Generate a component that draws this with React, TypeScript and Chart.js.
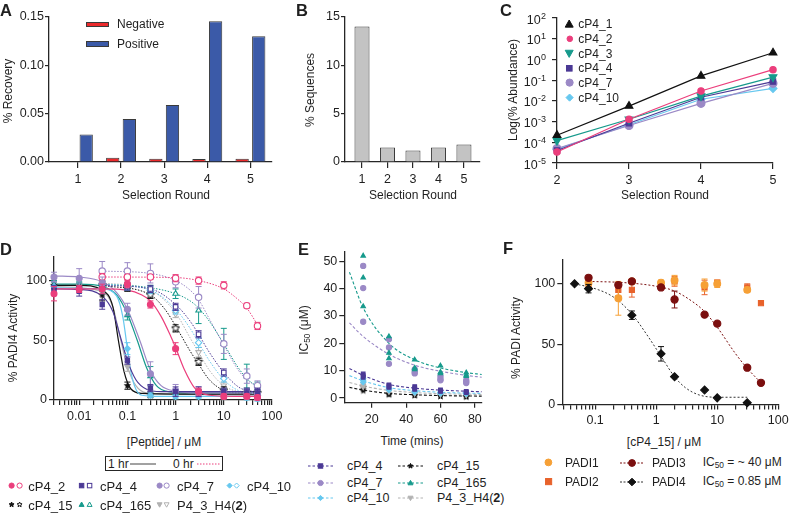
import React, { useEffect, useRef } from 'react';
import { Chart, registerables } from 'chart.js';

Chart.register(...registerables);

const FONT = '"Liberation Sans", Arial, Helvetica, sans-serif';
const TXT = '#1f1f1f';
const AX = '#262626';

const RED = '#ec2a2c';
const BLUE = '#3b5aa8';
const BARGRAY = '#c3c3c3';
const BAREDGE = '#3a3a3a';
const PINK = '#eb3e7c';
const TEAL = '#169a8c';
const PURPLE = '#4b3995';
const LAV = '#9b89c6';
const CYAN = '#67c8ef';
const GRAY = '#b2b2b2';
const BLACK = '#111111';
const ORANGE = '#f6a036';
const ORANGERED = '#e8622b';
const DARKRED = '#7b0f0f';

// ---------------- Panel A ----------------
const roundsA = [1, 2, 3, 4, 5];
const negativeA = [0, 0.0045, 0.0034, 0.003, 0.0034];
const positiveA = [0.0285, 0.0445, 0.059, 0.1455, 0.13];
const yTicksA = [0, 0.05, 0.1, 0.15];

// ---------------- Panel B ----------------
const roundsB = [1, 2, 3, 4, 5];
const sequencesB = [14.0, 1.5, 1.2, 1.5, 1.8];
const yTicksB = [0, 5, 10, 15];

// ---------------- Panel C ----------------
const roundsC = [2, 3, 4, 5];
const abund_cP4_1 = [2.2e-4, 5.6e-3, 0.16, 2.1];
const abund_cP4_2 = [3.4e-5, 1.3e-3, 0.03, 0.32];
const abund_cP4_3 = [1.2e-4, 1.3e-3, 0.017, 0.14];
const abund_cP4_4 = [4.0e-5, 8.3e-4, 0.015, 0.085];
const abund_cP4_7 = [5.0e-5, 6.5e-4, 7.6e-3, 0.07];
const abund_cP4_10 = [4.6e-5, 7.0e-4, 0.012, 0.04];
const yExpC = [-5, -4, -3, -2, -1, 0, 1, 2];

// ---------------- Panel D ----------------
const concD1h = [0.003, 0.01, 0.03, 0.1, 0.3, 1, 3, 10, 30, 50];
const concD0h = [0.03, 0.1, 0.3, 1, 3, 10, 30, 50];
const dMajors = [0.01, 0.1, 1, 10, 100];
const dMajorLabels = ['0.01', '0.1', '1', '10', '100'];
const minorSteps = [2, 3, 4, 5, 6, 7, 8, 9];
const yTicksD = [0, 50, 100];

const d1_cP4_2 = [89, 93, 93, 97, 80, 43, 7, 3, 3, 2];
const d1e_cP4_2 = [6, 3, 4, 3, 3, 5, 3, 2, 2, 2];
const d1_cP4_4 = [92, 91, 80, 33, 10, 7, 7, 7, 6, 6];
const d1e_cP4_4 = [4, 4, 4, 3, 3, 4, 4, 3, 3, 3];
const d1_cP4_7 = [103, 102, 98, 76, 22, 8, 7, 6, 6, 5];
const d1e_cP4_7 = [4, 8, 5, 5, 10, 5, 4, 3, 3, 3];
const d1_cP4_10 = [95, 94, 93, 43, 4, 3, 3, 3, 2, 1];
const d1e_cP4_10 = [4, 4, 4, 5, 2, 2, 2, 2, 2, 2];
const d1_cP4_15 = [96, 95, 88, 12, 4, 5, 5, 5, 5, 5];
const d1e_cP4_15 = [3, 3, 5, 3, 2, 2, 2, 2, 2, 2];
const d1_cP4_165 = [97, 96, 94, 71, 20, 6, 6, 6, 5, 5];
const d1e_cP4_165 = [3, 3, 3, 4, 8, 3, 3, 3, 2, 2];
const d1_P4_3_H4 = [95, 94, 90, 28, 6, 5, 4, 4, 4, 3];
const d1e_P4_3_H4 = [3, 3, 3, 4, 3, 2, 2, 2, 2, 2];

const d0_cP4_2 = [103, 103, 103, 102, 100, 96, 79, 62];
const d0e_cP4_2 = [3, 2, 2, 3, 3, 3, 2, 3];
const d0_cP4_4 = [96, 95, 93, 78, 55, 23, 7, 7];
const d0e_cP4_4 = [3, 3, 3, 3, 3, 3, 3, 3];
const d0_cP4_7 = [108, 108, 106, 99, 86, 47, 20, 12];
const d0e_cP4_7 = [8, 7, 8, 5, 9, 8, 6, 4];
const d0_cP4_10 = [97, 95, 92, 75, 48, 18, 6, 4];
const d0e_cP4_10 = [3, 3, 3, 3, 4, 3, 3, 3];
const d0_cP4_15 = [96, 94, 88, 60, 32, 8, 6, 6];
const d0e_cP4_15 = [3, 3, 3, 3, 3, 3, 3, 2];
const d0_cP4_165 = [97, 95, 93, 89, 75, 47, 20, 12];
const d0e_cP4_165 = [3, 3, 3, 4, 11, 13, 10, 3];
const d0_P4_3_H4 = [98, 96, 92, 72, 40, 12, 6, 5];
const d0e_P4_3_H4 = [3, 3, 3, 3, 4, 3, 2, 2];

// fitted curves: [concentration, activity]
const c1_cP4_2 = [[0.003, 93], [0.03, 93], [0.1, 92], [0.2, 88], [0.3, 83], [0.5, 70], [0.8, 53], [1, 44], [1.5, 26], [2.5, 10], [5, 4], [20, 3], [50, 3]];
const c1_cP4_4 = [[0.003, 93], [0.01, 92.5], [0.03, 87], [0.05, 74], [0.075, 50], [0.1, 33], [0.15, 17], [0.25, 9], [0.5, 7], [50, 7]];
const c1_cP4_7 = [[0.003, 104], [0.01, 103], [0.03, 99], [0.06, 90], [0.1, 76], [0.18, 50], [0.3, 25], [0.5, 12], [1, 7.5], [3, 6], [50, 6]];
const c1_cP4_10 = [[0.003, 94], [0.03, 93], [0.06, 87], [0.08, 70], [0.1, 43], [0.12, 22], [0.15, 9], [0.2, 4], [0.5, 3], [50, 3]];
const c1_cP4_15 = [[0.003, 96], [0.01, 96], [0.03, 92], [0.05, 78], [0.065, 50], [0.085, 24], [0.12, 9], [0.2, 5.5], [1, 5], [50, 5]];
const c1_cP4_165 = [[0.003, 97], [0.01, 97], [0.03, 95], [0.06, 88], [0.1, 72], [0.16, 50], [0.25, 27], [0.4, 12], [0.7, 7], [2, 6], [50, 6]];
const c1_P4_3_H4 = [[0.003, 95], [0.03, 91], [0.05, 78], [0.07, 53], [0.1, 28], [0.15, 12], [0.25, 6], [1, 5], [50, 4]];
const c0_cP4_2 = [[0.03, 103], [1, 102.5], [3, 100], [10, 93], [20, 84], [30, 77], [50, 63]];
const c0_cP4_4 = [[0.03, 96], [0.3, 93], [1, 80], [2, 66], [3, 55], [5, 40], [10, 23], [20, 11], [30, 8], [50, 7]];
const c0_cP4_7 = [[0.03, 108], [0.3, 106], [1, 100], [2, 92], [3, 84], [5, 68], [10, 46], [20, 25], [30, 17], [50, 11]];
const c0_cP4_10 = [[0.03, 97], [0.3, 92], [1, 76], [2, 60], [3, 48], [5, 33], [10, 17], [20, 8], [50, 5]];
const c0_cP4_15 = [[0.03, 96], [0.3, 88], [0.6, 76], [1, 62], [2, 41], [3, 30], [5, 17], [10, 8], [20, 6], [50, 6]];
const c0_cP4_165 = [[0.03, 97], [0.3, 94], [1, 89], [2, 83], [3, 77], [5, 66], [10, 47], [20, 27], [30, 18], [50, 11]];
const c0_P4_3_H4 = [[0.03, 98], [0.3, 92], [1, 73], [2, 52], [3, 40], [5, 25], [10, 12], [20, 7], [50, 5]];

// ---------------- Panel E ----------------
const timesE = [15, 30, 45, 60, 75];
const xTicksE = [20, 40, 60, 80];
const yTicksE = [0, 10, 20, 30, 40, 50];
const e_cP4_165 = [[52, 44, 33.5], [22.5, 16.5, 14.5], [14, 11, 10.5], [11.8, 9.5, 9], [9.3, 8.5, 8]];
const e_cP4_7 = [[48.3, 40.2, 27.9], [21.5, 18.5, 12.5], [10.5, 9.5, 9], [8, 7, 6.5], [6.5, 6, 5.5]];
const e_cP4_4 = [[8.8, 8.2, 7.6], [4.8, 4.3, 3.9], [4.2, 3.6, 3.2], [3, 2.6, 2.4], [2.4, 2.2, 2]];
const e_cP4_10 = [[7.2, 6.5, 5.8], [3.6, 3.2, 2.9], [2.6, 2.3, 2.1], [2.1, 1.9, 1.7], [1.9, 1.7, 1.5]];
const e_P4_3_H4 = [[5, 4.5, 4], [2.6, 2.3], [1.8, 1.6], [1.4, 1.3], [1.2, 1.1]];
const e_cP4_15 = [[4, 3.2, 2.6], [1.6, 1.3, 1.2], [1.1, 1, 0.9], [0.8, 0.7, 0.6], [0.6, 0.5, 0.4]];
const curveTimesE = [7, 15, 30, 45, 60, 75, 84];
const ce_cP4_165 = [46, 33, 20, 14, 11, 9.3, 8.6];
const ce_cP4_7 = [27.5, 22.5, 16, 12, 9.8, 8.3, 7.6];
const ce_cP4_4 = [10.8, 8.3, 5, 3.6, 2.9, 2.5, 2.3];
const ce_cP4_10 = [8.2, 6.3, 3.8, 2.7, 2.1, 1.8, 1.7];
const ce_P4_3_H4 = [5.7, 4.4, 2.8, 2, 1.6, 1.4, 1.3];
const ce_cP4_15 = [3.9, 2.9, 1.7, 1.2, 0.9, 0.75, 0.7];

// ---------------- Panel F ----------------
const fMajors = [0.1, 1, 10, 100];
const fMajorLabels = ['0.1', '1', '10', '100'];
const yTicksF = [0, 50, 100];
const concF4 = [0.046, 0.078, 0.4, 1.2, 2, 6.2, 10, 31];
const padi4 = [100, 96, 74, 42, 23, 12, 5.5, 1.5];
const padi4Err = [0, 3.5, 3.5, 6, 0, 0, 0, 0];
const concF3 = [0.078, 0.24, 0.4, 1.2, 2, 6.2, 10, 31, 52];
const padi3 = [105, 99, 102, 97, 87, 74.5, 67, 30.5, 18];
const padi3Err = [0, 0, 0, 0, 7, 0, 0, 0, 0];
const concF1 = [0.078, 0.24, 0.4, 1.2, 2, 6.2, 10, 31];
const padi1 = [101, 88, 102, 101, 103, 99, 100, 95];
const padi1Err = [2, 14, 0, 2, 4, 5, 3, 2];
const concF2 = [0.078, 0.24, 0.4, 1.2, 2, 6.2, 10, 31, 52];
const padi2 = [99, 95, 95, 100, 102, 97, 101, 97, 84];
const padi2Err = [2, 5, 6, 2, 4, 6, 2, 3, 0];
const cf_padi3 = [[0.078, 102], [0.3, 101], [1, 98], [2, 94], [4, 85], [6.2, 77], [10, 64], [20, 42], [31, 30], [52, 18]];
const cf_padi4 = [[0.046, 100], [0.1, 96], [0.2, 89], [0.4, 75], [0.7, 58], [1.2, 40], [2, 23], [3, 14], [5, 8], [10, 6], [31, 6]];

// ================= helpers =================
type Box = { left: number; top: number; width: number; height: number };
type Area = { l: number; t: number; r: number; b: number };

function logTickValues(min: number, max: number) {
  const out: number[] = [];
  for (let e = Math.floor(Math.log10(min)); e <= Math.ceil(Math.log10(max)); e++) {
    const dec = Math.pow(10, e);
    [1, ...minorSteps].forEach((m) => {
      const v = +(m * dec).toPrecision(6);
      if (v >= min * 0.999 && v <= max * 1.001) out.push(v);
    });
  }
  return out.sort((a, b) => a - b);
}

function majorLabel(v: number, majors: number[], labels: string[]) {
  const i = majors.findIndex((m) => Math.abs(m - v) / m < 1e-6);
  return i >= 0 ? labels[i] : '';
}

function axis(o: any) {
  const vals: number[] = o.ticks;
  return {
    type: o.type,
    min: o.min,
    max: o.max,
    offset: false,
    bounds: 'data',
    afterBuildTicks: (s: any) => {
      s.ticks = vals.map((v) => ({ value: v }));
    },
    afterFit: (s: any) => {
      if (o.horiz) s.height = o.size;
      else s.width = o.size;
    },
    grid: { display: true, drawOnChartArea: false, drawTicks: true, tickLength: o.tickLen ?? 5, color: AX, lineWidth: 1.2, offset: false },
    border: { display: true, color: AX, width: 1.3 },
    ticks: {
      display: o.labels !== false,
      autoSkip: false,
      maxRotation: 0,
      minRotation: 0,
      padding: o.pad ?? 2,
      color: TXT,
      font: { family: FONT, size: o.fs ?? 12.5 },
      callback: (v: any) => o.fmt(Number(v)),
    },
  };
}

function baseOpts(box: Box, area: Area, xAxis: (h: number) => any, yAxis: (w: number) => any) {
  return {
    responsive: false,
    maintainAspectRatio: false,
    animation: false,
    events: [],
    devicePixelRatio: 1,
    layout: { padding: { left: 0, top: area.t - box.top, right: box.left + box.width - area.r, bottom: 0 } },
    plugins: { legend: { display: false }, tooltip: { enabled: false }, title: { display: false } },
    scales: { x: xAxis(box.top + box.height - area.b), y: yAxis(area.l - box.left) },
  };
}

const errorBars = {
  id: 'errorBars',
  beforeDatasetDraw(chart: any, args: any) {
    const ds = chart.data.datasets[args.index];
    if (!ds.errors) return;
    const ys = chart.scales.y;
    const ctx = chart.ctx;
    ctx.save();
    ctx.strokeStyle = ds.errColor;
    ctx.lineWidth = 1;
    args.meta.data.forEach((pt: any, i: number) => {
      const e = ds.errors[i];
      if (!e) return;
      const v = ds.data[i].y;
      const top = ys.getPixelForValue(v + e);
      const bot = ys.getPixelForValue(v - e);
      const w = ds.capW ?? 3;
      ctx.beginPath();
      ctx.moveTo(pt.x, top);
      ctx.lineTo(pt.x, bot);
      ctx.moveTo(pt.x - w, top);
      ctx.lineTo(pt.x + w, top);
      ctx.moveTo(pt.x - w, bot);
      ctx.lineTo(pt.x + w, bot);
      ctx.stroke();
    });
    ctx.restore();
  },
};

const powerLabels = {
  id: 'powerLabels',
  afterDraw(chart: any) {
    const s = chart.scales.y;
    const ctx = chart.ctx;
    const xr = chart.chartArea.left - 11;
    ctx.save();
    ctx.fillStyle = TXT;
    ctx.textAlign = 'right';
    ctx.textBaseline = 'alphabetic';
    yExpC.forEach((e) => {
      const y = s.getPixelForValue(Math.pow(10, e));
      const es = String(e);
      ctx.font = `9px ${FONT}`;
      ctx.fillText(es, xr, y + 0.5);
      const ew = ctx.measureText(es).width;
      ctx.font = `12.5px ${FONT}`;
      ctx.fillText('10', xr - ew - 0.3, y + 5.5);
    });
    ctx.restore();
  },
};

function starCanvas(color: string, r: number, filled: boolean) {
  const c = document.createElement('canvas');
  const s = Math.ceil(r * 2 + 3);
  c.width = s;
  c.height = s;
  const ctx = c.getContext('2d')!;
  ctx.beginPath();
  for (let i = 0; i < 10; i++) {
    const ang = -Math.PI / 2 + (i * Math.PI) / 5;
    const rr = i % 2 === 0 ? r : r * 0.45;
    const px = s / 2 + rr * Math.cos(ang);
    const py = s / 2 + rr * Math.sin(ang);
    if (i === 0) ctx.moveTo(px, py);
    else ctx.lineTo(px, py);
  }
  ctx.closePath();
  if (filled) {
    ctx.fillStyle = color;
    ctx.fill();
  } else {
    ctx.fillStyle = '#fff';
    ctx.fill();
    ctx.strokeStyle = color;
    ctx.lineWidth = 1;
    ctx.stroke();
  }
  return c;
}

function chartStyle(s: string, color: string, r: number, filled: boolean) {
  if (s === 'star') return starCanvas(color, r + 1, filled);
  if (s === 'down' || s === 'triangle') return 'triangle';
  if (s === 'diamond') return 'rectRot';
  if (s === 'square') return 'rect';
  return 'circle';
}

function xy(xs: number[], ys: number[]) {
  return xs.map((x, i) => ({ x, y: ys[i] }));
}
function pairPts(p: number[][]) {
  return p.map(([x, y]) => ({ x, y }));
}

function pointDs(data: any[], color: string, shape: string, r: number, filled: boolean, errors?: number[], order = 1) {
  return {
    type: 'scatter',
    data,
    showLine: false,
    pointStyle: chartStyle(shape, color, r, filled),
    pointRotation: shape === 'down' ? 180 : 0,
    pointRadius: r,
    pointBackgroundColor: filled ? color : '#ffffff',
    pointBorderColor: color,
    pointBorderWidth: 1.1,
    errors,
    errColor: color,
    clip: false,
    order,
  };
}

function curveDs(data: any[], color: string, dash: number[], width = 1.1) {
  return {
    type: 'line',
    data,
    borderColor: color,
    borderWidth: width,
    borderDash: dash,
    pointRadius: 0,
    cubicInterpolationMode: 'monotone',
    fill: false,
    clip: false,
    order: 5,
  };
}

function ChartCanvas({ box, make }: { box: Box; make: () => any }) {
  const ref = useRef<HTMLCanvasElement | null>(null);
  useEffect(() => {
    if (!ref.current) return;
    const chart = new Chart(ref.current, make());
    return () => chart.destroy();
  }, []);
  return (
    <div style={{ position: 'absolute', left: box.left, top: box.top, width: box.width, height: box.height }}>
      <canvas ref={ref} width={box.width} height={box.height} style={{ display: 'block', width: box.width, height: box.height }} />
    </div>
  );
}

// ================= panel configs =================
const boxA: Box = { left: 0, top: 0, width: 285, height: 200 };
const areaA: Area = { l: 49, t: 16.8, r: 272, b: 162 };
function makeA() {
  const bar = (vals: number[], color: string) => ({
    data: xy(roundsA, vals),
    backgroundColor: color,
    borderColor: BAREDGE,
    borderWidth: 1,
    borderSkipped: 'start',
    categoryPercentage: 0.77,
    barPercentage: 0.8,
  });
  return {
    type: 'bar',
    data: { datasets: [{ label: 'Negative', ...bar(negativeA, RED) }, { label: 'Positive', ...bar(positiveA, BLUE) }] },
    options: baseOpts(
      boxA,
      areaA,
      (h) => axis({ type: 'linear', min: 0.33, max: 5.5, ticks: roundsA, fmt: (v: number) => String(v), size: h, horiz: true, tickLen: 6, pad: 4 }),
      (w) => axis({ type: 'linear', min: 0, max: 0.15, ticks: yTicksA, fmt: (v: number) => v.toFixed(2), size: w, horiz: false, tickLen: 4, pad: 1 })
    ),
  };
}

const boxB: Box = { left: 300, top: 0, width: 195, height: 200 };
const areaB: Area = { l: 345, t: 16.8, r: 480, b: 162 };
function makeB() {
  return {
    type: 'bar',
    data: {
      datasets: [
        { label: '% Sequences', data: xy(roundsB, sequencesB), backgroundColor: BARGRAY, borderColor: BAREDGE, borderWidth: 1, borderSkipped: 'start', categoryPercentage: 1, barPercentage: 0.59 },
      ],
    },
    options: baseOpts(
      boxB,
      areaB,
      (h) => axis({ type: 'linear', min: 0.333, max: 5.63, ticks: roundsB, fmt: (v: number) => String(v), size: h, horiz: true, tickLen: 6, pad: 4 }),
      (w) => axis({ type: 'linear', min: 0, max: 15, ticks: yTicksB, fmt: (v: number) => String(v), size: w, horiz: false, tickLen: 4, pad: 1 })
    ),
  };
}

const boxC: Box = { left: 505, top: 0, width: 285, height: 200 };
const areaC: Area = { l: 557, t: 18, r: 773, b: 163 };
function makeC() {
  const ser = (ys: number[], color: string, shape: string, r: number) => ({
    ...pointDs(xy(roundsC, ys), color, shape, r, true),
    showLine: true,
    borderColor: color,
    borderWidth: 1.2,
  });
  return {
    type: 'scatter',
    data: {
      datasets: [
        ser(abund_cP4_1, BLACK, 'triangle', 4.5),
        ser(abund_cP4_2, PINK, 'circle', 3.2),
        ser(abund_cP4_3, TEAL, 'down', 4.5),
        ser(abund_cP4_4, PURPLE, 'square', 3.8),
        ser(abund_cP4_7, LAV, 'circle', 4),
        ser(abund_cP4_10, CYAN, 'diamond', 4),
      ],
    },
    options: baseOpts(
      boxC,
      areaC,
      (h) => axis({ type: 'linear', min: 2, max: 5, ticks: roundsC, fmt: (v: number) => String(v), size: h, horiz: true, tickLen: 6, pad: 4 }),
      (w) => axis({ type: 'logarithmic', min: 1e-5, max: 100, ticks: yExpC.map((e) => Math.pow(10, e)), fmt: () => '', size: w, horiz: false, tickLen: 5, labels: false })
    ),
    plugins: [powerLabels],
  };
}

const seriesD = [
  { c: PINK, s: 'circle', h1: d1_cP4_2, e1: d1e_cP4_2, h0: d0_cP4_2, e0: d0e_cP4_2, c1: c1_cP4_2, c0: c0_cP4_2 },
  { c: PURPLE, s: 'square', h1: d1_cP4_4, e1: d1e_cP4_4, h0: d0_cP4_4, e0: d0e_cP4_4, c1: c1_cP4_4, c0: c0_cP4_4 },
  { c: LAV, s: 'circle', h1: d1_cP4_7, e1: d1e_cP4_7, h0: d0_cP4_7, e0: d0e_cP4_7, c1: c1_cP4_7, c0: c0_cP4_7 },
  { c: CYAN, s: 'diamond', h1: d1_cP4_10, e1: d1e_cP4_10, h0: d0_cP4_10, e0: d0e_cP4_10, c1: c1_cP4_10, c0: c0_cP4_10 },
  { c: BLACK, s: 'star', h1: d1_cP4_15, e1: d1e_cP4_15, h0: d0_cP4_15, e0: d0e_cP4_15, c1: c1_cP4_15, c0: c0_cP4_15 },
  { c: TEAL, s: 'triangle', h1: d1_cP4_165, e1: d1e_cP4_165, h0: d0_cP4_165, e0: d0e_cP4_165, c1: c1_cP4_165, c0: c0_cP4_165 },
  { c: GRAY, s: 'down', h1: d1_P4_3_H4, e1: d1e_P4_3_H4, h0: d0_P4_3_H4, e0: d0e_P4_3_H4, c1: c1_P4_3_H4, c0: c0_P4_3_H4 },
];

const boxD: Box = { left: 0, top: 240, width: 290, height: 190 };
const areaD: Area = { l: 54, t: 256.7, r: 272, b: 400 };
function makeD() {
  const datasets: any[] = [];
  seriesD.forEach((s) => {
    datasets.push(curveDs(pairPts(s.c0), s.c, [1.5, 1.5], 1));
    datasets.push(curveDs(pairPts(s.c1), s.c, [], 1.2));
  });
  seriesD.forEach((s) => {
    datasets.push(pointDs(xy(concD0h, s.h0), s.c, s.s, 3.2, false, s.e0, 2));
    datasets.push(pointDs(xy(concD1h, s.h1), s.c, s.s, 3, true, s.e1, 1));
  });
  return {
    type: 'scatter',
    data: { datasets },
    options: baseOpts(
      boxD,
      areaD,
      (h) => axis({ type: 'logarithmic', min: 0.003, max: 100, ticks: logTickValues(0.003, 100), fmt: (v: number) => majorLabel(v, dMajors, dMajorLabels), size: h, horiz: true, tickLen: 5, pad: 4 }),
      (w) => axis({ type: 'linear', min: 0, max: 120, ticks: yTicksD, fmt: (v: number) => String(v), size: w, horiz: false, tickLen: 5, pad: 2 })
    ),
    plugins: [errorBars],
  };
}

const seriesE = [
  { c: TEAL, s: 'triangle', reps: e_cP4_165, curve: ce_cP4_165 },
  { c: LAV, s: 'circle', reps: e_cP4_7, curve: ce_cP4_7 },
  { c: PURPLE, s: 'square', reps: e_cP4_4, curve: ce_cP4_4 },
  { c: CYAN, s: 'diamond', reps: e_cP4_10, curve: ce_cP4_10 },
  { c: GRAY, s: 'down', reps: e_P4_3_H4, curve: ce_P4_3_H4 },
  { c: BLACK, s: 'star', reps: e_cP4_15, curve: ce_cP4_15 },
];

const boxE: Box = { left: 290, top: 240, width: 205, height: 190 };
const areaE: Area = { l: 344.3, t: 251.7, r: 481.7, b: 402.7 };
function makeE() {
  const datasets: any[] = [];
  seriesE.forEach((s) => {
    datasets.push(curveDs(xy(curveTimesE, s.curve), s.c, [3, 2], 1.1));
  });
  seriesE.forEach((s) => {
    const pts: any[] = [];
    s.reps.forEach((arr, i) => arr.forEach((v) => pts.push({ x: timesE[i], y: v })));
    datasets.push(pointDs(pts, s.c, s.s, 2.6, true));
  });
  return {
    type: 'scatter',
    data: { datasets },
    options: baseOpts(
      boxE,
      areaE,
      (h) => axis({ type: 'linear', min: 4, max: 84, ticks: xTicksE, fmt: (v: number) => String(v), size: h, horiz: true, tickLen: 5, pad: 4 }),
      (w) => axis({ type: 'linear', min: -1.7, max: 53.5, ticks: yTicksE, fmt: (v: number) => String(v), size: w, horiz: false, tickLen: 5, pad: 2 })
    ),
  };
}

const boxF: Box = { left: 520, top: 240, width: 290, height: 190 };
const areaF: Area = { l: 562.3, t: 259.7, r: 778.3, b: 404.5 };
function makeF() {
  return {
    type: 'scatter',
    data: {
      datasets: [
        curveDs(pairPts(cf_padi3), DARKRED, [2, 2], 1),
        curveDs(pairPts(cf_padi4), '#333333', [2, 2], 1),
        pointDs(xy(concF4, padi4), BLACK, 'diamond', 4, true, padi4Err, 1),
        pointDs(xy(concF3, padi3), DARKRED, 'circle', 3.6, true, padi3Err, 2),
        pointDs(xy(concF1, padi1), ORANGE, 'circle', 3.4, true, padi1Err, 3),
        pointDs(xy(concF2, padi2), ORANGERED, 'square', 3.6, true, padi2Err, 4),
      ],
    },
    options: baseOpts(
      boxF,
      areaF,
      (h) => axis({ type: 'logarithmic', min: 0.029, max: 100, ticks: logTickValues(0.03, 100), fmt: (v: number) => majorLabel(v, fMajors, fMajorLabels), size: h, horiz: true, tickLen: 5, pad: 4 }),
      (w) => axis({ type: 'linear', min: 0, max: 120, ticks: yTicksF, fmt: (v: number) => String(v), size: w, horiz: false, tickLen: 5, pad: 2 })
    ),
    plugins: [errorBars],
  };
}

// ================= HTML text & legends =================
function Txt({ x, y, s = 12, a = 'l', b = false, rot = false, children }: any) {
  const tx = a === 'c' ? '-50%' : a === 'r' ? '-100%' : '0';
  return (
    <div
      style={{
        position: 'absolute',
        left: x,
        top: y,
        fontSize: s,
        fontWeight: b ? 700 : 400,
        lineHeight: 1,
        whiteSpace: 'nowrap',
        transform: rot ? 'translate(-50%,-50%) rotate(-90deg)' : `translate(${tx},-50%)`,
      }}
    >
      {children}
    </div>
  );
}

function shapeEl(shape: string, cx: number, cy: number, r: number, fill: string, stroke: string) {
  const sw = 1;
  if (shape === 'circle') return <circle cx={cx} cy={cy} r={r} fill={fill} stroke={stroke} strokeWidth={sw} />;
  if (shape === 'square') return <rect x={cx - r * 0.85} y={cy - r * 0.85} width={r * 1.7} height={r * 1.7} fill={fill} stroke={stroke} strokeWidth={sw} />;
  let pts = '';
  if (shape === 'triangle') pts = `${cx},${cy - r} ${cx + r * 0.95},${cy + r * 0.7} ${cx - r * 0.95},${cy + r * 0.7}`;
  else if (shape === 'down') pts = `${cx},${cy + r} ${cx + r * 0.95},${cy - r * 0.7} ${cx - r * 0.95},${cy - r * 0.7}`;
  else if (shape === 'diamond') pts = `${cx},${cy - r} ${cx + r},${cy} ${cx},${cy + r} ${cx - r},${cy}`;
  else if (shape === 'star') {
    const arr: string[] = [];
    for (let i = 0; i < 10; i++) {
      const ang = -Math.PI / 2 + (i * Math.PI) / 5;
      const rr = i % 2 === 0 ? r : r * 0.45;
      arr.push(`${cx + rr * Math.cos(ang)},${cy + rr * Math.sin(ang)}`);
    }
    pts = arr.join(' ');
  }
  return <polygon points={pts} fill={fill} stroke={stroke} strokeWidth={sw} />;
}

function Mk({ x, y, shape, color, filled = true, r = 3 }: any) {
  const s = r * 2 + 4;
  return (
    <svg width={s} height={s} style={{ position: 'absolute', left: x - s / 2, top: y - s / 2, overflow: 'visible' }}>
      {shapeEl(shape, s / 2, s / 2, r, filled ? color : '#fff', color)}
    </svg>
  );
}

function LineMk({ x1, x2, y, color, dash, shape, r = 3, mColor }: any) {
  const w = x2 - x1;
  return (
    <svg width={w} height={12} style={{ position: 'absolute', left: x1, top: y - 6, overflow: 'visible' }}>
      <line x1={0} y1={6} x2={w} y2={6} stroke={color} strokeWidth={1} strokeDasharray={dash} />
      {shape ? shapeEl(shape, w / 2, 6, r, mColor || color, mColor || color) : null}
    </svg>
  );
}

const legendC = [
  { n: 'cP4_1', c: BLACK, s: 'triangle', r: 4.2 },
  { n: 'cP4_2', c: PINK, s: 'circle', r: 2.8 },
  { n: 'cP4_3', c: TEAL, s: 'down', r: 4.2 },
  { n: 'cP4_4', c: PURPLE, s: 'square', r: 3.3 },
  { n: 'cP4_7', c: LAV, s: 'circle', r: 3.6 },
  { n: 'cP4_10', c: CYAN, s: 'diamond', r: 3.6 },
];
const legendCy = [24, 39, 53.5, 68, 83, 98];

const legendD = [
  { n: 'cP4_2', c: PINK, s: 'circle', mx: 11.7, tx: 28.3, y: 486 },
  { n: 'cP4_4', c: PURPLE, s: 'square', mx: 82, tx: 100, y: 486 },
  { n: 'cP4_7', c: LAV, s: 'circle', mx: 159.3, tx: 177, y: 486 },
  { n: 'cP4_10', c: CYAN, s: 'diamond', mx: 229.3, tx: 247, y: 486 },
  { n: 'cP4_15', c: BLACK, s: 'star', mx: 11.7, tx: 28.3, y: 505 },
  { n: 'cP4_165', c: TEAL, s: 'triangle', mx: 82, tx: 100, y: 505 },
  { n: 'P4_3_H4', c: GRAY, s: 'down', mx: 159.3, tx: 177, y: 505, bold2: true },
];

const legendE = [
  { n: 'cP4_4', c: PURPLE, s: 'square', x1: 308, tx: 347, y: 466 },
  { n: 'cP4_7', c: LAV, s: 'circle', x1: 308, tx: 347, y: 482.7 },
  { n: 'cP4_10', c: CYAN, s: 'diamond', x1: 308, tx: 347, y: 498.3 },
  { n: 'cP4_15', c: BLACK, s: 'star', x1: 398, tx: 437, y: 466 },
  { n: 'cP4_165', c: TEAL, s: 'triangle', x1: 398, tx: 437, y: 482.7 },
  { n: 'P4_3_H4', c: GRAY, s: 'down', x1: 398, tx: 437, y: 498.3, bold2: true },
];

export default function App() {
  return (
    <div style={{ position: 'fixed', left: 0, top: 0, width: 790, height: 513, overflow: 'hidden', background: '#fff', fontFamily: FONT, color: TXT }}>
      <ChartCanvas box={boxA} make={makeA} />
      <ChartCanvas box={boxB} make={makeB} />
      <ChartCanvas box={boxC} make={makeC} />
      <ChartCanvas box={boxD} make={makeD} />
      <ChartCanvas box={boxE} make={makeE} />
      <ChartCanvas box={boxF} make={makeF} />

      {/* panel letters */}
      <Txt x={0} y={9.5} s={16.5} b>A</Txt>
      <Txt x={296} y={9.5} s={16.5} b>B</Txt>
      <Txt x={500} y={9.5} s={16.5} b>C</Txt>
      <Txt x={0} y={249} s={16.5} b>D</Txt>
      <Txt x={298} y={249} s={16.5} b>E</Txt>
      <Txt x={503} y={248} s={16.5} b>F</Txt>

      {/* Panel A texts */}
      <Txt x={7.5} y={91} rot s={12}>% Recovery</Txt>
      <Txt x={166} y={194.5} a="c" s={12}>Selection Round</Txt>
      <div style={{ position: 'absolute', left: 86, top: 21.5, width: 23, height: 5.5, background: RED, border: `1px solid ${BAREDGE}`, boxSizing: 'border-box' }} />
      <Txt x={117} y={24.3} s={12}>Negative</Txt>
      <div style={{ position: 'absolute', left: 86, top: 40.5, width: 23, height: 6, background: BLUE, border: `1px solid ${BAREDGE}`, boxSizing: 'border-box' }} />
      <Txt x={117} y={43.5} s={12}>Positive</Txt>

      {/* Panel B texts */}
      <Txt x={310} y={90} rot s={12}>% Sequences</Txt>
      <Txt x={413} y={194.5} a="c" s={12}>Selection Round</Txt>

      {/* Panel C texts */}
      <Txt x={512.5} y={90} rot s={12}>Log(% Abundance)</Txt>
      <Txt x={665} y={194.5} a="c" s={12}>Selection Round</Txt>
      {legendC.map((l, i) => (
        <React.Fragment key={l.n}>
          <Mk x={569.3} y={legendCy[i]} shape={l.s} color={l.c} r={l.r} />
          <Txt x={578.3} y={legendCy[i]} s={12}>{l.n}</Txt>
        </React.Fragment>
      ))}

      {/* Panel D texts */}
      <Txt x={13} y={338} rot s={12}>% PADI4 Activity</Txt>
      <Txt x={164} y={442} a="c" s={12}>[Peptide] / μM</Txt>
      <div style={{ position: 'absolute', left: 105, top: 456, width: 118, height: 15, border: `1px solid ${AX}`, boxSizing: 'border-box' }} />
      <Txt x={108} y={463.5} s={12}>1 hr</Txt>
      <LineMk x1={130} x2={156} y={463.5} color="#444" />
      <Txt x={173} y={463.5} s={12}>0 hr</Txt>
      <LineMk x1={197} x2={221} y={463.5} color={PINK} dash="1.5 1.5" />
      {legendD.map((l) => (
        <React.Fragment key={l.n}>
          <Mk x={l.mx} y={l.y} shape={l.s} color={l.c} r={2.6} />
          <Mk x={l.mx + 7.5} y={l.y} shape={l.s} color={l.c} r={2.6} filled={false} />
          <Txt x={l.tx} y={l.y} s={13}>
            {l.n}
            {l.bold2 ? (
              <span>
                (<b>2</b>)
              </span>
            ) : null}
          </Txt>
        </React.Fragment>
      ))}

      {/* Panel E texts */}
      <Txt x={305} y={330} rot s={12}>
        IC<sub style={{ fontSize: '0.7em', verticalAlign: '-0.2em' }}>50</sub> (μM)
      </Txt>
      <Txt x={412} y={440.5} a="c" s={12}>Time (mins)</Txt>
      {legendE.map((l) => (
        <React.Fragment key={l.n}>
          <LineMk x1={l.x1} x2={l.x1 + 25} y={l.y} color={l.c} dash="2.5 2" shape={l.s} r={2.6} />
          <Txt x={l.tx} y={l.y} s={12.5}>
            {l.n}
            {l.bold2 ? (
              <span>
                (<b>2</b>)
              </span>
            ) : null}
          </Txt>
        </React.Fragment>
      ))}

      {/* Panel F texts */}
      <Txt x={516} y={338} rot s={12}>% PADI Activity</Txt>
      <Txt x={664} y={442} a="c" s={12}>[cP4_15] / μM</Txt>
      <Mk x={548.3} y={462.7} shape="circle" color={ORANGE} r={3.4} />
      <Txt x={565} y={462.7} s={12}>PADI1</Txt>
      <Mk x={548.3} y={482} shape="square" color={ORANGERED} r={3.6} />
      <Txt x={565} y={482} s={12}>PADI2</Txt>
      <LineMk x1={620} x2={644} y={462.7} color={DARKRED} dash="2 1.5" shape="circle" r={3.4} />
      <Txt x={652} y={462.7} s={12}>PADI3</Txt>
      <LineMk x1={620} x2={644} y={482} color="#333" dash="2 1.5" shape="diamond" r={3.8} mColor={BLACK} />
      <Txt x={652} y={482} s={12}>PADI4</Txt>
      <Txt x={702.7} y={462.7} s={12}>
        IC<sub style={{ fontSize: '0.7em', verticalAlign: '-0.2em' }}>50</sub> = ~ 40 μM
      </Txt>
      <Txt x={702.7} y={482} s={12}>
        IC<sub style={{ fontSize: '0.7em', verticalAlign: '-0.2em' }}>50</sub> = 0.85 μM
      </Txt>
    </div>
  );
}
